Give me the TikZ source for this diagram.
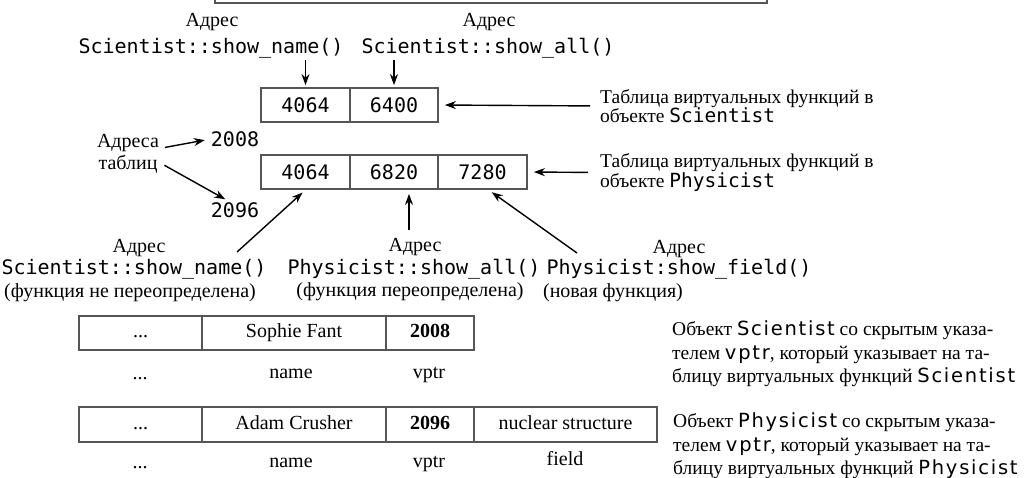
\documentclass[tikz,border=0pt]{standalone}
\usepackage{fontspec}
\setmainfont{Liberation Serif}
\newfontfamily\mono{DejaVu Sans Mono}
\newfontfamily\sanssp[LetterSpace=9]{DejaVu Sans}
\usetikzlibrary{arrows.meta}
\definecolor{boxgray}{HTML}{555555}

\begin{document}
\begin{tikzpicture}[x=1pt,y=-1pt,
    box/.style={draw=boxgray,line width=1.8pt,minimum height=34pt,inner sep=0pt},
    arr/.style={-{Stealth[length=11pt,width=8pt]},line width=1.4pt},
    txt/.style={inner sep=0pt,font=\fontsize{20}{22}\selectfont},
    lbl/.style={txt,text height=13pt,text depth=4pt},
    code/.style={inner sep=0pt,font=\mono\fontsize{20}{22}\selectfont},
    note/.style={inner sep=0pt,anchor=west,align=left}]
\useasboundingbox (0,0) rectangle (1031,478);
% рамка сверху (обрезана)
\draw[draw=boxgray,line width=1.8pt] (215,-12) rectangle (767,3);

% адреса функций Scientist
\node[txt] (adr1) at (212,22) {Адрес};
\node[code] (fn1) at (211,48) {Scientist::show\_name()};
\node[txt] (adr2) at (489,22) {Адрес};
\node[code] (fn2) at (488,48) {Scientist::show\_all()};

% таблица виртуальных функций Scientist
\node[box,code,minimum width=89pt] (vs1) at (305.5,105) {4064};
\node[box,code,minimum width=88pt] (vs2) at (394,105) {6400};
% таблица виртуальных функций Physicist
\node[box,code,minimum width=89pt] (vp1) at (305.5,172) {4064};
\node[box,code,minimum width=88pt] (vp2) at (394,172) {6820};
\node[box,code,minimum width=89pt] (vp3) at (482.5,172) {7280};

\draw[arr,shorten <=2pt,shorten >=2pt] (vs1.north |- fn1.south) -- (vs1.north);
\draw[arr,shorten <=2pt,shorten >=2pt] (vs2.north |- fn2.south) -- (vs2.north);

\node[note,font=\fontsize{19.5}{19.5}\selectfont] (tS) at (600,106)
  {Таблица виртуальных функций в\\объекте {\mono Scientist}};
\node[note,font=\fontsize{19.5}{19.5}\selectfont] (tP) at (600,172.5)
  {Таблица виртуальных функций в\\объекте {\mono Physicist}};
\draw[arr,shorten <=10pt,shorten >=6pt] (tS.west) -- (vs2.east);
\draw[arr,shorten <=12pt,shorten >=6pt] (tP.west) -- (vp3.east);

% адреса таблиц
\node[txt,align=center,font=\fontsize{20}{22}\selectfont] (addr) at (128,154) {Адреса\\таблиц};
\node[code] (n2008) at (235,139) {2008};
\node[code] (n2096) at (235,210) {2096};
\draw[arr,shorten <=6pt,shorten >=6pt] (addr.10) -- (n2008.west);
\draw[arr,shorten <=6pt,shorten >=6pt] (addr.-15) -- (n2096.120);

% адреса функций Physicist
\node[txt] (adr3) at (139,248) {Адрес};
\node[code] (fn3) at (134,269) {Scientist::show\_name()};
\node[txt] (cm1) at (130,293) {(функция не переопределена)};
\node[txt] (adr4) at (415,247) {Адрес};
\node[code] (fn4) at (414,269) {Physicist::show\_all()};
\node[txt] (cm2) at (410,292) {(функция переопределена)};
\node[txt] (adr5) at (679,249) {Адрес};
\node[code] (fn5) at (679,269) {Physicist:show\_field()};
\node[txt] (cm3) at (613,293) {(новая функция)};

\coordinate (p1) at (237,252);
\coordinate (p2) at (409,230);
\coordinate (p3) at (577,253);
\draw[arr,shorten >=4pt] (p1) -- (vp1.south);
\draw[arr,shorten >=4pt] (p2) -- (p2 |- vp2.south);
\draw[arr,shorten >=4pt] (p3) -- ([xshift=6pt]vp3.south);

% объект Scientist
\node[box,lbl,minimum width=123pt] (o1a) at (140.5,333) {...};
\node[box,lbl,minimum width=184pt] (o1b) at (294,333) {Sophie Fant};
\node[box,lbl,minimum width=88pt] (o1c) at (430,333) {\textbf{2008}};
\node[lbl] (l1a) at (140,375) {...};
\node[lbl] (l1b) at (291,374) {name};
\node[lbl] (l1c) at (429,374) {vptr};

% объект Physicist
\node[box,lbl,minimum width=123pt,minimum height=35pt] (o2a) at (140.5,424.5) {...};
\node[box,lbl,minimum width=184pt,minimum height=35pt] (o2b) at (294,424.5) {Adam Crusher};
\node[box,lbl,minimum width=88pt,minimum height=35pt] (o2c) at (430,424.5) {\textbf{2096}};
\node[box,lbl,minimum width=183pt,minimum height=35pt] (o2d) at (565.5,424.5) {nuclear structure};
\node[lbl] (l2a) at (140,464) {...};
\node[lbl] (l2b) at (291,463) {name};
\node[lbl] (l2c) at (429,463) {vptr};
\node[lbl] (l2d) at (565,461) {field};

% пояснения
\node[note,font=\fontsize{19.5}{23.5}\selectfont] (dS) at (672,354)
  {Объект {\sanssp Scientist} со скрытым указа-\\телем {\sanssp vptr}, который указывает на та-\\блицу виртуальных функций {\sanssp Scientist}};
\node[note,font=\fontsize{19.5}{23.5}\selectfont] (dP) at (673,446)
  {Объект {\sanssp Physicist} со скрытым указа-\\телем {\sanssp vptr}, который указывает на та-\\блицу виртуальных функций {\sanssp Physicist}};
\end{tikzpicture}
\end{document}
